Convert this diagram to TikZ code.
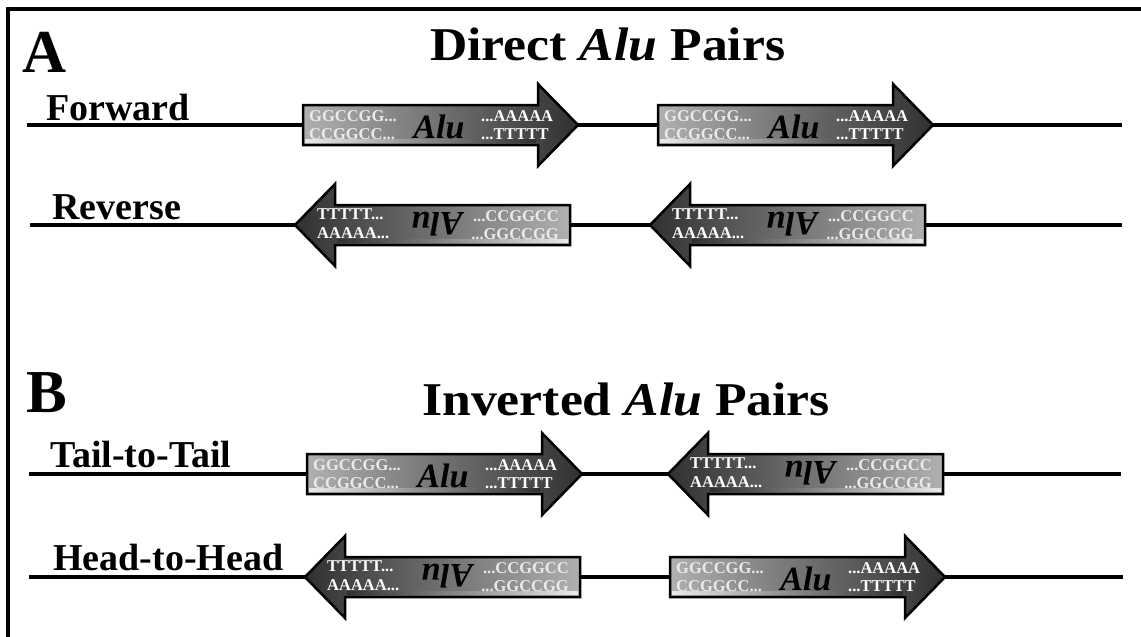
\documentclass[tikz,border=0pt]{standalone}
\usepackage{fontspec}
\setmainfont{Liberation Serif}
\newfontfamily\titlefont[FakeStretch=1.1]{Liberation Serif}
\usetikzlibrary{calc}
\definecolor{alulight}{RGB}{176,176,176}
\definecolor{alumid}{RGB}{112,112,112}
\definecolor{aludark}{RGB}{48,48,48}
\definecolor{seqgray}{RGB}{234,234,234}
\tikzset{
  dna/.style={line width=4pt, black},
  frameline/.style={line width=4pt, black, line join=miter},
  alufwd/.style={draw=black, line width=2.5pt, line join=miter, left color=alulight, right color=aludark, middle color=alumid},
  alurev/.style={draw=black, line width=2.5pt, line join=miter, left color=aludark, right color=alulight, middle color=alumid},
  shinefwd/.style={left color=seqgray, right color=aludark},
  shinerev/.style={left color=aludark, right color=seqgray},
  seqlight/.style={text=seqgray, font=\fontsize{16.5}{18.6}\selectfont\bfseries, inner sep=0pt},
  seqwhite/.style={text=white, font=\fontsize{16.5}{18.6}\selectfont\bfseries, inner sep=0pt},
  alutext/.style={font=\fontsize{34}{34}\selectfont\bfseries\itshape, inner sep=0pt, anchor=base},
  rowlabel/.style={font=\fontsize{38}{40}\selectfont\bfseries, anchor=base west, inner sep=0pt},
  paneltitle/.style={font=\titlefont\fontsize{47}{52}\selectfont\bfseries, anchor=base west, inner sep=0pt},
  panelletter/.style={font=\fontsize{61}{64}\selectfont\bfseries, anchor=base west, inner sep=0pt},
}
% forward Alu arrow: #1 name, #2 body left x, #3 centre y
\newcommand\aluright[3]{%
  \path[alufwd] (#2,#3-20) -- (#2+235,#3-20) -- (#2+235,#3-41) -- (#2+275,#3)
    -- (#2+235,#3+41) -- (#2+235,#3+20) -- (#2,#3+20) -- cycle;
  \shade[shinefwd] (#2+2,#3+14) rectangle (#2+233,#3+17);
  \node[seqlight, anchor=west, align=left] (#1-l) at (#2+6,#3) {GGCCGG...\\CCGGCC...};
  \node[alutext] (#1-a) at (#2+136,#3+13) {Alu};
  \node[seqwhite, anchor=west, align=left] (#1-r) at (#2+178,#3) {...AAAAA\\...TTTTT};
}
% reverse Alu arrow: #1 name, #2 tip x, #3 centre y
\newcommand\aluleft[3]{%
  \path[alurev] (#2,#3) -- (#2+40,#3-41) -- (#2+40,#3-20) -- (#2+275,#3-20)
    -- (#2+275,#3+20) -- (#2+40,#3+20) -- (#2+40,#3+41) -- cycle;
  \shade[shinerev] (#2+42,#3+14) rectangle (#2+273,#3+17);
  \node[seqwhite, anchor=west, align=left] (#1-l) at (#2+22,#3-1) {TTTTT...\\AAAAA...};
  \node[alutext, rotate=180] (#1-a) at (#2+142,#3-13) {Alu};
  \node[seqlight, anchor=east, align=right] (#1-r) at (#2+264,#3) {...CCGGCC\\...GGCCGG};
}
\begin{document}
\begin{tikzpicture}[x=1pt, y=-1pt]
\fill[white] (0,0) rectangle (1141,637);
\useasboundingbox (0,0) rectangle (1141,637);
% frame
\coordinate (fr-bl) at (8,637);
\coordinate (fr-tl) at (8,9);
\coordinate (fr-tr) at (1141,9);
\draw[frameline] (fr-bl) -- (fr-tl) -- (fr-tr);
% titles
\node[panelletter] (letA) at (22,72) {A};
\node[paneltitle] (titleA) at (430,60) {Direct \textit{Alu} Pairs};
\node[panelletter] (letB) at (26,412) {B};
\node[paneltitle] (titleB) at (422,415) {Inverted \textit{Alu} Pairs};
% DNA lines
\coordinate (fw-s) at (27,125);  \coordinate (fw-e) at (1122,125);
\coordinate (rv-s) at (30,225);  \coordinate (rv-e) at (1122,225);
\coordinate (tt-s) at (29,474);  \coordinate (tt-e) at (1121,474);
\coordinate (hh-s) at (29,577);  \coordinate (hh-e) at (1123,577);
\draw[dna] (fw-s) -- (fw-e);
\draw[dna] (rv-s) -- (rv-e);
\draw[dna] (tt-s) -- (tt-e);
\draw[dna] (hh-s) -- (hh-e);
% row labels
\node[rowlabel] (lab-fw) at (46,120) {Forward};
\node[rowlabel] (lab-rv) at (52,219) {Reverse};
\node[rowlabel] (lab-tt) at (50,467) {Tail-to-Tail};
\node[rowlabel] (lab-hh) at (53,570) {Head-to-Head};
% arrows
\aluright{fw1}{303}{125}
\aluright{fw2}{658}{125}
\aluleft{rv1}{295}{225}
\aluleft{rv2}{650}{225}
\aluright{tt1}{307}{474}
\aluleft{tt2}{668}{474}
\aluleft{hh1}{305}{577}
\aluright{hh2}{670}{577}
\end{tikzpicture}
\end{document}
